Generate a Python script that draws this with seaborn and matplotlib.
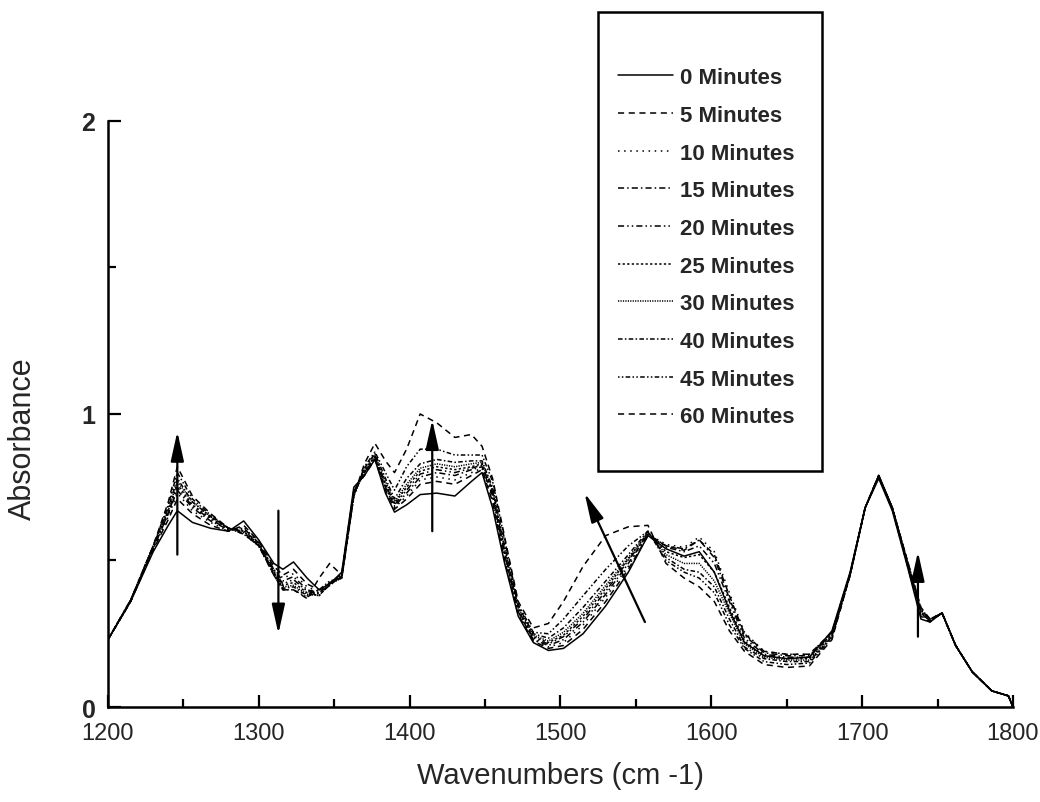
# -*- encoding: utf-8 -*-

import matplotlib
matplotlib.use('Agg')
import matplotlib.pyplot as plt
import matplotlib.patches as mpatches
import pandas as pd
import seaborn as sns

# wavenumber grid (cm-1) shared by all spectra
wavenumbers = [1200, 1215, 1230, 1240, 1246, 1256, 1268, 1280, 1290, 1300,
               1310, 1316, 1323, 1332, 1340, 1347, 1355, 1363, 1370, 1377,
               1384, 1390, 1398, 1407, 1418, 1430, 1441, 1448, 1455, 1463,
               1472, 1482, 1492, 1502, 1515, 1530, 1545, 1558, 1570, 1582,
               1592, 1602, 1612, 1622, 1635, 1650, 1665, 1680, 1692, 1702,
               1711, 1720, 1730, 1739, 1745, 1753, 1762, 1773, 1786, 1797,
               1800]

abs_0 = [0.23, 0.36, 0.53, 0.62, 0.67, 0.63, 0.61, 0.60, 0.635, 0.57,
         0.49, 0.47, 0.495, 0.44, 0.40, 0.42, 0.46, 0.75, 0.79, 0.845,
         0.73, 0.665, 0.69, 0.725, 0.73, 0.72, 0.77, 0.80, 0.68, 0.49,
         0.31, 0.22, 0.193, 0.20, 0.25, 0.345, 0.46, 0.585, 0.54, 0.515,
         0.53, 0.46, 0.33, 0.22, 0.175, 0.165, 0.17, 0.26, 0.46, 0.68,
         0.78, 0.67, 0.48, 0.30, 0.29, 0.322, 0.21, 0.12, 0.055, 0.038,
         0.0]
abs_5 = [0.23, 0.36, 0.535, 0.64, 0.71, 0.66, 0.62, 0.60, 0.62, 0.565,
         0.48, 0.45, 0.47, 0.42, 0.40, 0.42, 0.455, 0.74, 0.79, 0.845,
         0.74, 0.675, 0.71, 0.76, 0.77, 0.76, 0.79, 0.81, 0.70, 0.50,
         0.315, 0.225, 0.20, 0.21, 0.265, 0.36, 0.47, 0.585, 0.55, 0.535,
         0.57, 0.52, 0.38, 0.25, 0.19, 0.18, 0.18, 0.255, 0.455, 0.68,
         0.785, 0.675, 0.485, 0.31, 0.29, 0.322, 0.21, 0.12, 0.055, 0.038,
         0.0]
abs_10 = [0.23, 0.365, 0.54, 0.65, 0.73, 0.67, 0.63, 0.60, 0.615, 0.56,
          0.47, 0.44, 0.455, 0.41, 0.395, 0.42, 0.45, 0.74, 0.795, 0.85,
          0.75, 0.68, 0.72, 0.775, 0.785, 0.775, 0.80, 0.815, 0.71, 0.51,
          0.32, 0.23, 0.205, 0.22, 0.28, 0.375, 0.48, 0.59, 0.555, 0.545,
          0.58, 0.53, 0.39, 0.255, 0.19, 0.18, 0.18, 0.255, 0.455, 0.68,
          0.785, 0.675, 0.485, 0.315, 0.29, 0.322, 0.21, 0.12, 0.055, 0.038,
          0.0]
abs_15 = [0.23, 0.36, 0.54, 0.66, 0.74, 0.68, 0.635, 0.605, 0.61, 0.56,
          0.47, 0.43, 0.445, 0.40, 0.39, 0.415, 0.45, 0.735, 0.80, 0.85,
          0.75, 0.685, 0.73, 0.785, 0.80, 0.79, 0.81, 0.82, 0.72, 0.52,
          0.325, 0.23, 0.21, 0.23, 0.29, 0.385, 0.49, 0.59, 0.55, 0.54,
          0.57, 0.51, 0.37, 0.245, 0.185, 0.175, 0.175, 0.25, 0.455, 0.68,
          0.79, 0.68, 0.49, 0.32, 0.295, 0.32, 0.21, 0.12, 0.055, 0.038,
          0.0]
abs_20 = [0.23, 0.365, 0.545, 0.66, 0.75, 0.685, 0.64, 0.605, 0.605, 0.555,
          0.465, 0.42, 0.435, 0.395, 0.385, 0.415, 0.445, 0.73, 0.80, 0.855,
          0.76, 0.69, 0.74, 0.795, 0.81, 0.80, 0.815, 0.825, 0.73, 0.525,
          0.33, 0.235, 0.215, 0.24, 0.30, 0.395, 0.50, 0.59, 0.545, 0.53,
          0.55, 0.49, 0.36, 0.235, 0.18, 0.17, 0.17, 0.25, 0.45, 0.68,
          0.79, 0.68, 0.49, 0.32, 0.295, 0.32, 0.21, 0.12, 0.055, 0.038,
          0.0]
abs_25 = [0.23, 0.36, 0.545, 0.67, 0.76, 0.69, 0.645, 0.61, 0.60, 0.555,
          0.46, 0.415, 0.425, 0.39, 0.38, 0.42, 0.445, 0.73, 0.805, 0.855,
          0.76, 0.695, 0.75, 0.805, 0.82, 0.81, 0.82, 0.83, 0.735, 0.53,
          0.335, 0.24, 0.22, 0.245, 0.31, 0.405, 0.505, 0.595, 0.53, 0.51,
          0.52, 0.46, 0.34, 0.225, 0.175, 0.165, 0.165, 0.245, 0.45, 0.68,
          0.79, 0.68, 0.49, 0.325, 0.295, 0.32, 0.21, 0.12, 0.055, 0.038,
          0.0]
abs_30 = [0.23, 0.365, 0.55, 0.67, 0.77, 0.70, 0.65, 0.61, 0.60, 0.55,
          0.46, 0.41, 0.415, 0.385, 0.38, 0.42, 0.44, 0.72, 0.81, 0.86,
          0.77, 0.70, 0.76, 0.815, 0.83, 0.82, 0.83, 0.835, 0.74, 0.54,
          0.34, 0.245, 0.225, 0.255, 0.32, 0.415, 0.51, 0.595, 0.52, 0.49,
          0.49, 0.43, 0.32, 0.215, 0.17, 0.16, 0.16, 0.24, 0.45, 0.68,
          0.79, 0.68, 0.495, 0.33, 0.30, 0.32, 0.21, 0.12, 0.055, 0.038,
          0.0]
abs_40 = [0.23, 0.36, 0.55, 0.68, 0.78, 0.70, 0.65, 0.61, 0.595, 0.55,
          0.455, 0.405, 0.41, 0.38, 0.39, 0.425, 0.44, 0.72, 0.815, 0.865,
          0.78, 0.71, 0.78, 0.83, 0.845, 0.835, 0.84, 0.84, 0.75, 0.55,
          0.345, 0.25, 0.235, 0.27, 0.34, 0.43, 0.52, 0.60, 0.51, 0.47,
          0.46, 0.41, 0.30, 0.205, 0.165, 0.155, 0.155, 0.24, 0.45, 0.68,
          0.79, 0.68, 0.495, 0.33, 0.30, 0.32, 0.21, 0.12, 0.055, 0.038,
          0.0]
abs_45 = [0.23, 0.365, 0.55, 0.69, 0.80, 0.71, 0.655, 0.61, 0.59, 0.55,
          0.45, 0.40, 0.40, 0.375, 0.40, 0.43, 0.44, 0.72, 0.82, 0.87,
          0.80, 0.74, 0.82, 0.88, 0.88, 0.86, 0.86, 0.86, 0.77, 0.57,
          0.35, 0.255, 0.25, 0.30, 0.38, 0.47, 0.55, 0.60, 0.50, 0.46,
          0.44, 0.39, 0.28, 0.20, 0.155, 0.145, 0.15, 0.235, 0.45, 0.68,
          0.79, 0.68, 0.50, 0.335, 0.30, 0.32, 0.21, 0.12, 0.055, 0.038,
          0.0]
abs_60 = [0.23, 0.36, 0.55, 0.70, 0.82, 0.72, 0.66, 0.61, 0.59, 0.55,
          0.45, 0.40, 0.40, 0.37, 0.44, 0.49, 0.45, 0.72, 0.83, 0.90,
          0.84, 0.80, 0.88, 1.00, 0.97, 0.92, 0.93, 0.89, 0.78, 0.58,
          0.36, 0.27, 0.285, 0.36, 0.48, 0.585, 0.615, 0.62, 0.49, 0.44,
          0.41, 0.36, 0.26, 0.19, 0.145, 0.135, 0.14, 0.23, 0.45, 0.68,
          0.79, 0.68, 0.50, 0.34, 0.30, 0.32, 0.21, 0.12, 0.055, 0.038,
          0.0]

times = ['0 Minutes', '5 Minutes', '10 Minutes', '15 Minutes', '20 Minutes',
         '25 Minutes', '30 Minutes', '40 Minutes', '45 Minutes', '60 Minutes']
spectra = [abs_0, abs_5, abs_10, abs_15, abs_20, abs_25, abs_30, abs_40, abs_45, abs_60]

# arrows: (wavenumber, absorbance) of tail and head
arrow_tails = [(1246, 0.52), (1313, 0.67), (1415, 0.60), (1556, 0.29), (1737, 0.24)]
arrow_heads = [(1246, 0.94), (1313, 0.25), (1415, 0.98), (1516, 0.73), (1737, 0.53)]

dash_styles = {
    '0 Minutes': '',
    '5 Minutes': (4, 3),
    '10 Minutes': (1, 3),
    '15 Minutes': (4, 2, 1, 2),
    '20 Minutes': (4, 2, 1, 2, 1, 2),
    '25 Minutes': (1.5, 1.5),
    '30 Minutes': (0.8, 0.8),
    '40 Minutes': (3, 1.5, 1, 1.5),
    '45 Minutes': (1, 1.5, 1, 1.5, 3, 1.5),
    '60 Minutes': (4, 3),
}

rows = []
for label, vals in zip(times, spectra):
    for wn, a in zip(wavenumbers, vals):
        rows.append((wn, a, label))
df = pd.DataFrame(rows, columns=['wavenumber', 'absorbance', 'time'])

sns.set_style('ticks')
plt.rcParams['font.family'] = ['Liberation Sans', 'DejaVu Sans']

fig = plt.figure(figsize=(10.4, 8.03), dpi=100)
ax = fig.add_axes([0.1038, 0.1183, 0.8702, 0.7298])

sns.lineplot(data=df, x='wavenumber', y='absorbance', hue='time', style='time',
             hue_order=times, style_order=times,
             palette={t: 'black' for t in times}, dashes=dash_styles,
             estimator=None, linewidth=1.1, ax=ax, legend='full')

handles, labels = ax.get_legend_handles_labels()
ax.get_legend().remove()

for (x0, y0), (x1, y1) in zip(arrow_tails, arrow_heads):
    ax.annotate('', xy=(x1, y1), xytext=(x0, y0),
                arrowprops=dict(arrowstyle='-|>,head_length=0.9,head_width=0.2',
                                color='black', lw=1.6, mutation_scale=20,
                                shrinkA=0, shrinkB=0))

ax.set_xlim(1200, 1800)
ax.set_ylim(0, 2)
ax.set_xticks(range(1200, 1801, 100))
ax.set_xticks(range(1250, 1800, 100), minor=True)
ax.set_yticks([0, 1, 2])
ax.set_yticks([0.5, 1.5], minor=True)
ax.tick_params(axis='both', which='both', direction='in', width=1.6, color='black')
ax.tick_params(axis='both', which='major', length=9)
ax.tick_params(axis='both', which='minor', length=6)
ax.tick_params(axis='x', labelsize=17, pad=11)
ax.tick_params(axis='y', labelsize=18, pad=9)
for t in ax.get_yticklabels():
    t.set_fontweight('bold')

sns.despine(ax=ax)
for side in ['left', 'bottom']:
    ax.spines[side].set_linewidth(1.8)
    ax.spines[side].set_color('black')

ax.set_xlabel('Wavenumbers (cm -1)', fontsize=21, labelpad=12)
ax.set_ylabel('Absorbance', fontsize=22)
ax.yaxis.set_label_coords(-0.077, 0.46)

# legend box sits partly above the axes
fig.patches.append(mpatches.Rectangle((0.575, 0.4122), 0.2154, 0.5716,
                                      transform=fig.transFigure, fill=False,
                                      edgecolor='black', linewidth=1.8))
fig.legend(handles, labels, loc='upper left', bbox_to_anchor=(0.594, 0.915),
           frameon=False, prop={'weight': 'bold', 'size': 16},
           handlelength=2.5, handletextpad=0.3, labelspacing=0.75,
           borderpad=0, borderaxespad=0)

plt.savefig('out.png', dpi=100)
